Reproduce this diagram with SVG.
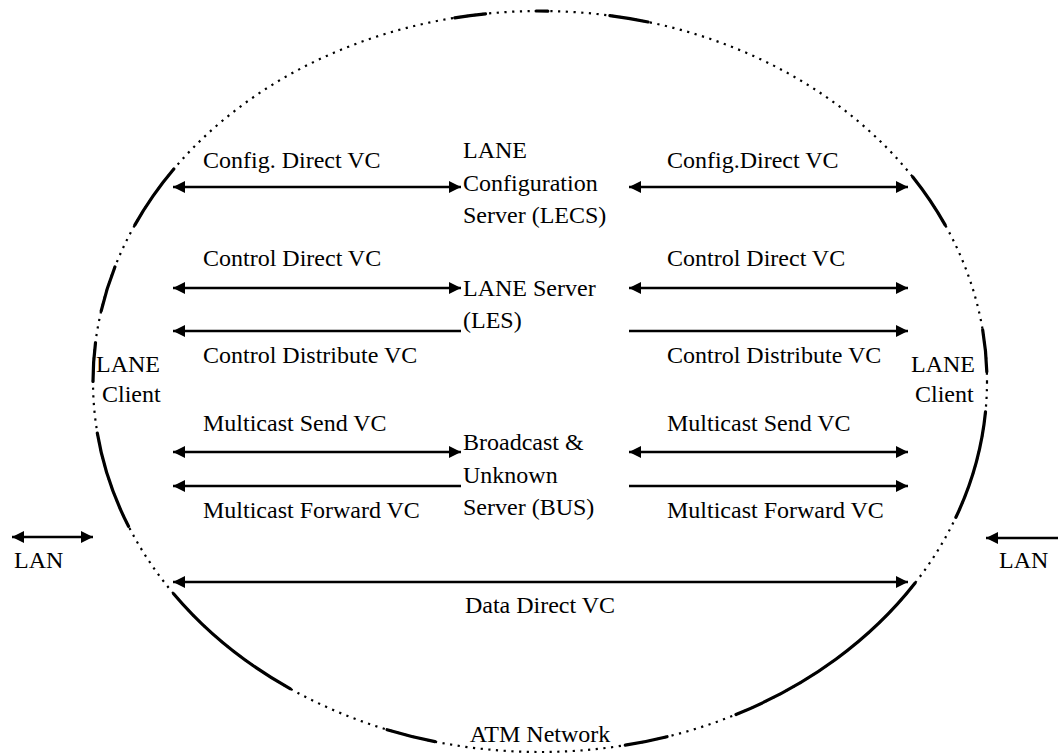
<svg xmlns="http://www.w3.org/2000/svg" width="1058" height="753" viewBox="0 0 1058 753">
<style>
text{font-family:"Liberation Serif","Times New Roman",serif;font-size:24px;fill:#000}
.ln{stroke:#000;stroke-width:2.7;fill:none}
.dot{stroke:#000;stroke-width:2.2;fill:none;stroke-dasharray:2.2 5.5}
.sol{stroke:#000;stroke-width:3.2;fill:none;stroke-linecap:round}
</style>
<defs>
<marker id="ah" viewBox="0 0 12 12" refX="12" refY="6" markerWidth="12" markerHeight="12" markerUnits="userSpaceOnUse" orient="auto-start-reverse"><path d="M0,0 L12,6 L0,12 z" fill="#000"/></marker>
</defs>
<rect width="1058" height="753" fill="#fff"/>
<g id="atm-network">
<ellipse class="dot" cx="540" cy="381.5" rx="447" ry="370.5"/>
<path class="sol" d="M454.7,17.8 A447,370.5 0 0 1 485.5,13.8 M536.1,11 A447,370.5 0 0 1 547.8,11.1 M609.9,15.6 A447,370.5 0 0 1 648.1,22 M912.8,177 A447,370.5 0 0 1 945.1,224.9 M982.7,329.9 A447,370.5 0 0 1 986.8,371.8 M985.5,411.9 A447,370.5 0 0 1 955.9,517.3 M914.9,583.3 A447,370.5 0 0 1 736,714.5 M667,736.7 A447,370.5 0 0 1 625.3,745.2 M434.9,741.6 A447,370.5 0 0 1 387.1,729.7 M290,688.6 A447,370.5 0 0 1 173.8,594 M128.5,526.3 A447,370.5 0 0 1 97.3,433.1 M93,381.5 A447,370.5 0 0 1 95.5,342.8 M101.2,310.8 A447,370.5 0 0 1 114.9,267 M134.9,224.9 A447,370.5 0 0 1 173.8,169"/>
<text x="540" y="742" text-anchor="middle">ATM Network</text>
</g>
<g id="lecs">
<text x="463" y="158">LANE</text>
<text x="463" y="191">Configuration</text>
<text x="463" y="223">Server (LECS)</text>
</g>
<g id="les">
<text x="463" y="296">LANE Server</text>
<text x="463" y="328">(LES)</text>
</g>
<g id="bus">
<text x="463" y="450">Broadcast &amp;</text>
<text x="463" y="483">Unknown</text>
<text x="463" y="515">Server (BUS)</text>
</g>
<g id="lec-left">
<text x="96" y="372">LANE</text>
<text x="102" y="402">Client</text>
</g>
<g id="lec-right">
<text x="911" y="372">LANE</text>
<text x="915" y="402">Client</text>
</g>
<g id="lan-left">
<text x="14" y="568">LAN</text>
</g>
<g id="lan-right">
<text x="999" y="568">LAN</text>
</g>
<g id="connectors">
<line class="ln" x1="173" y1="187" x2="461" y2="187" marker-start="url(#ah)" marker-end="url(#ah)"/>
<line class="ln" x1="629" y1="187" x2="908" y2="187" marker-start="url(#ah)" marker-end="url(#ah)"/>
<line class="ln" x1="173" y1="288" x2="461" y2="288" marker-start="url(#ah)" marker-end="url(#ah)"/>
<line class="ln" x1="629" y1="288" x2="908" y2="288" marker-start="url(#ah)" marker-end="url(#ah)"/>
<line class="ln" x1="173" y1="331" x2="461" y2="331" marker-start="url(#ah)"/>
<line class="ln" x1="629" y1="331" x2="908" y2="331" marker-end="url(#ah)"/>
<line class="ln" x1="173" y1="452" x2="461" y2="452" marker-start="url(#ah)" marker-end="url(#ah)"/>
<line class="ln" x1="629" y1="452" x2="908" y2="452" marker-start="url(#ah)" marker-end="url(#ah)"/>
<line class="ln" x1="173" y1="486" x2="461" y2="486" marker-start="url(#ah)"/>
<line class="ln" x1="629" y1="486" x2="908" y2="486" marker-end="url(#ah)"/>
<line class="ln" x1="173" y1="582" x2="908" y2="582" marker-start="url(#ah)" marker-end="url(#ah)"/>
<line class="ln" x1="12" y1="537" x2="93" y2="537" marker-start="url(#ah)" marker-end="url(#ah)"/>
<line class="ln" x1="986" y1="538" x2="1062" y2="538" marker-start="url(#ah)"/>
<text x="203" y="168">Config. Direct VC</text>
<text x="667" y="168">Config.Direct VC</text>
<text x="203" y="266">Control Direct VC</text>
<text x="667" y="266">Control Direct VC</text>
<text x="203" y="363">Control Distribute VC</text>
<text x="667" y="363">Control Distribute VC</text>
<text x="203" y="431">Multicast Send VC</text>
<text x="667" y="431">Multicast Send VC</text>
<text x="203" y="518">Multicast Forward VC</text>
<text x="667" y="518">Multicast Forward VC</text>
<text x="540" y="613" text-anchor="middle">Data Direct VC</text>
</g>
</svg>
